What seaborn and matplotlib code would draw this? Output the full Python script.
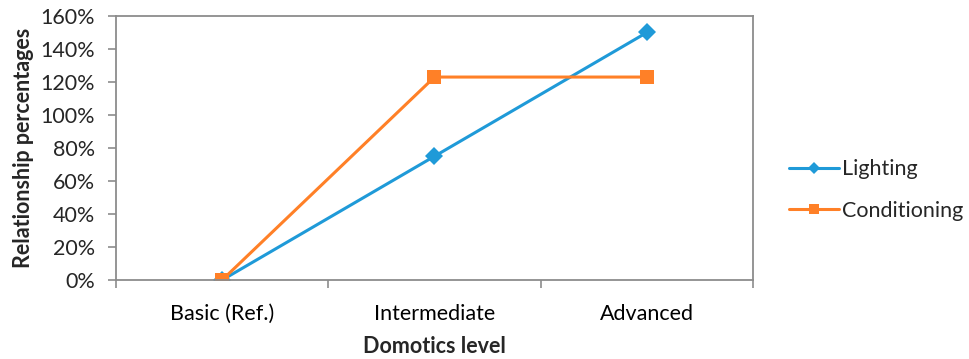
import matplotlib
matplotlib.use("Agg")
import matplotlib.pyplot as plt
import seaborn as sns
import pandas as pd
from matplotlib.ticker import FixedLocator, PercentFormatter
from matplotlib.lines import Line2D

levels = ["Basic (Ref.)", "Intermediate", "Advanced"]
lighting = [0, 75, 150]
conditioning = [0, 123, 123]
series_names = ["Lighting", "Conditioning"]

df = pd.DataFrame({
    "level": list(range(len(levels))) * 2,
    "value": lighting + conditioning,
    "series": [series_names[0]] * len(levels) + [series_names[1]] * len(levels),
})

sns.set_theme(style="white")
plt.rcParams["font.family"] = ["Lato", "DejaVu Sans"]

fig = plt.figure(figsize=(9.7, 3.59), dpi=100)
ax = fig.add_axes([116 / 970, 79 / 359, (753 - 116) / 970, (280 - 16) / 359])

palette = {"Lighting": "#1F9AD8", "Conditioning": "#FF8027"}
markers = {"Lighting": "D", "Conditioning": "s"}
msize = {"Lighting": 9, "Conditioning": 9.5}
lw = 2.2

sns.lineplot(data=df, x="level", y="value", hue="series", style="series",
             markers=markers, dashes=False, palette=palette, linewidth=lw,
             markersize=8, markeredgewidth=0, ax=ax, legend=False)
for line in ax.get_lines():
    name = series_names[0] if line.get_marker() == "D" else series_names[1]
    line.set_markersize(msize[name])

ax.set_xlim(-0.5, 2.5)
ax.set_ylim(0, 160)
ax.yaxis.set_major_locator(FixedLocator(range(0, 161, 20)))
ax.yaxis.set_major_formatter(PercentFormatter(decimals=0))
ax.set_xticks(range(len(levels)))
ax.set_xticklabels(levels)
ax.xaxis.set_minor_locator(FixedLocator([-0.5, 0.5, 1.5, 2.5]))

fs = 15.5
ax.tick_params(axis="x", which="major", length=0, pad=17, labelsize=fs, colors="#000000")
ax.tick_params(axis="x", which="minor", length=6, width=1.2, color="#8C8C8C", direction="out", bottom=True)
ax.tick_params(axis="y", which="major", length=6, width=1.2, color="#8C8C8C", direction="out", left=True, labelsize=fs, pad=9)

for side in ["left", "right", "top", "bottom"]:
    ax.spines[side].set_visible(True)
    ax.spines[side].set_color("#8C8C8C")
    ax.spines[side].set_linewidth(1.3)

ax.set_xlabel("Domotics level", fontsize=fs, fontweight="bold", labelpad=9)
ax.set_ylabel("Relationship percentages", fontsize=fs, fontweight="bold", labelpad=5)

handles = [Line2D([], [], color=palette[n], marker=markers[n], linewidth=lw,
                  markersize=(6.5 if n == "Lighting" else 7.5), markeredgewidth=0)
           for n in series_names]
fig.legend(handles, series_names, loc="center left", bbox_to_anchor=(789 / 970, 1 - 190 / 359),
           frameon=False, fontsize=fs, handlelength=2.3, handletextpad=0.15, labelspacing=1.0,
           borderpad=0, borderaxespad=0)

fig.savefig("out.png", dpi=100, facecolor="white")
